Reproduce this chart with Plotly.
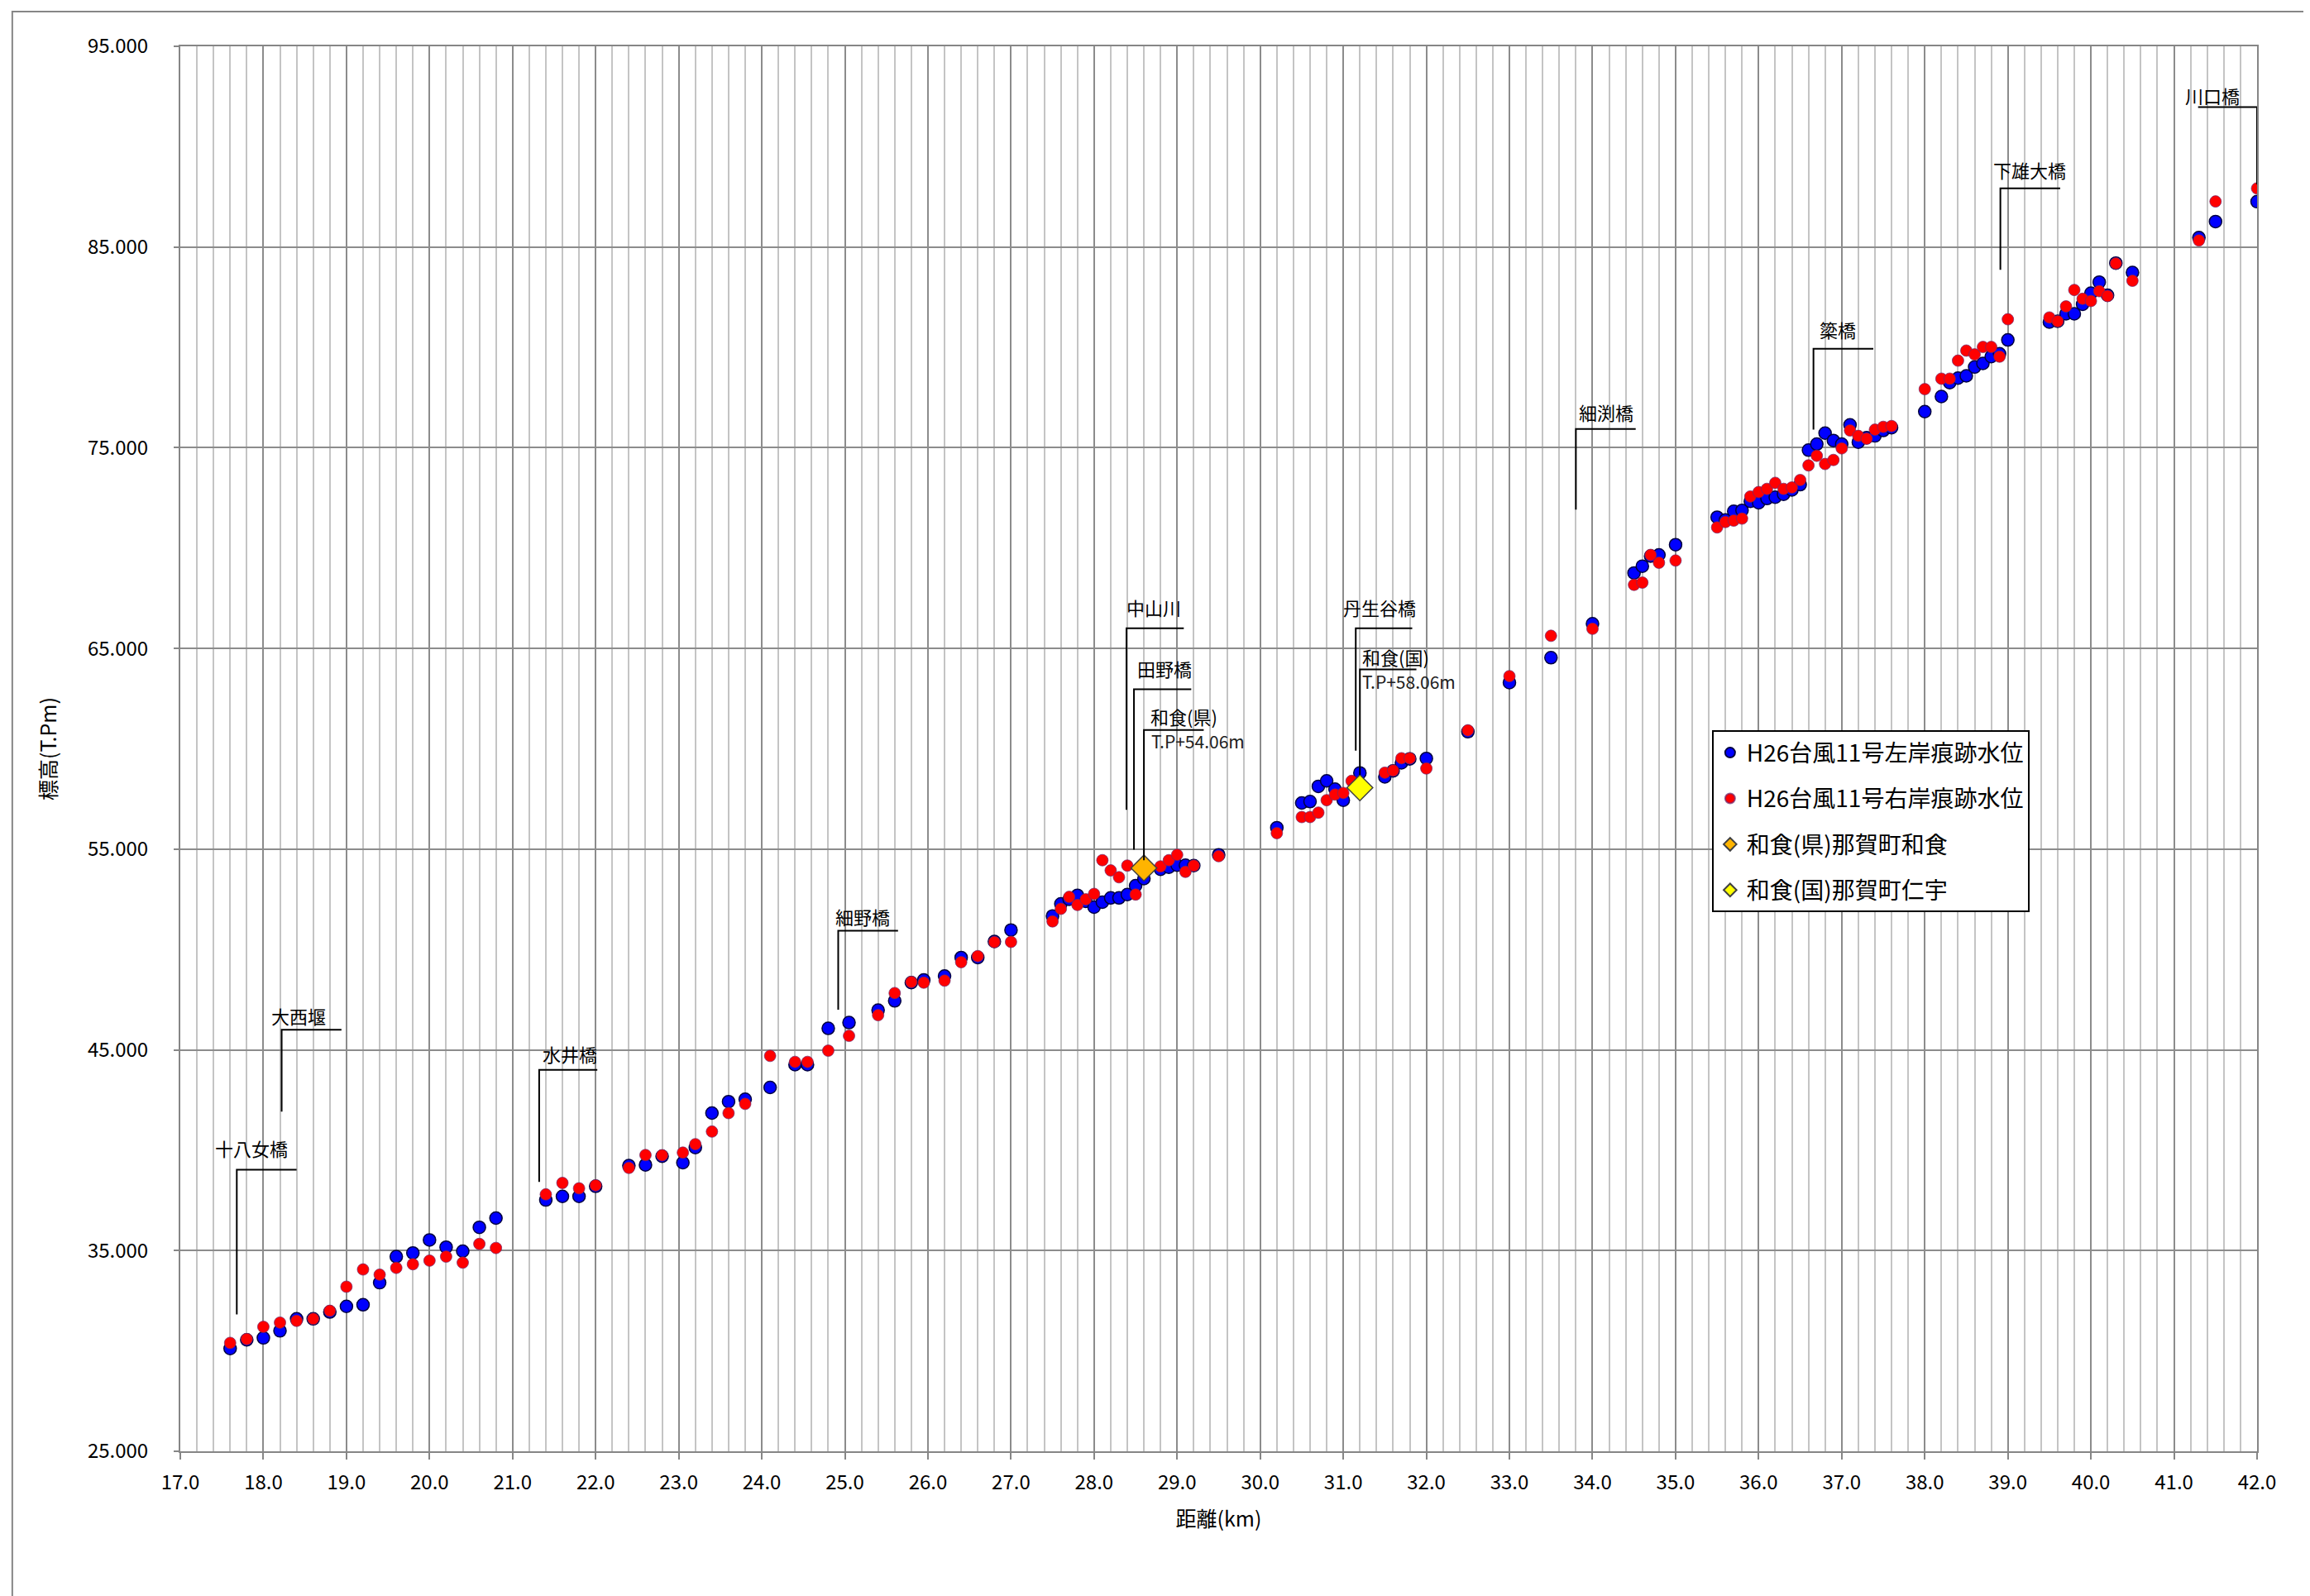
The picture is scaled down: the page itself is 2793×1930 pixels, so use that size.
"""
Water level trace chart (H26 typhoon No.11) - distance vs elevation
"""

import plotly.graph_objects as go

FONT = 'Noto Sans CJK JP'

# left bank trace water level (blue)
left_km = [17.6, 17.8, 18.0, 18.2, 18.4, 18.6, 18.8, 19.0, 19.2, 19.4, 19.6, 19.8, 20.0, 20.2, 20.4, 20.6, 20.8,
           21.4, 21.6, 21.8, 22.0, 22.4, 22.6, 22.8, 23.05, 23.2, 23.4, 23.6, 23.8, 24.1, 24.4, 24.55, 24.8,
           25.05, 25.4, 25.6, 25.8, 25.95, 26.2, 26.4, 26.6, 26.8, 27.0, 27.5, 27.6, 27.7, 27.8, 27.9, 28.0,
           28.1, 28.2, 28.3, 28.4, 28.5, 28.6, 28.8, 28.9, 29.0, 29.1, 29.2, 29.5, 30.2, 30.5, 30.6, 30.7,
           30.8, 30.9, 31.0, 31.2, 31.5, 31.6, 31.7, 31.8, 32.0, 32.5, 33.0, 33.5, 34.0, 34.5, 34.6, 34.7,
           34.8, 35.0, 35.5, 35.6, 35.7, 35.8, 35.9, 36.0, 36.1, 36.2, 36.3, 36.4, 36.5, 36.6, 36.7, 36.8,
           36.9, 37.0, 37.1, 37.2, 37.3, 37.4, 37.5, 37.6, 38.0, 38.2, 38.3, 38.4, 38.5, 38.6, 38.7, 38.8,
           38.9, 39.0, 39.5, 39.6, 39.7, 39.8, 39.9, 40.0, 40.1, 40.2, 40.3, 40.5, 41.3, 41.5, 42.0]
left_level = [30.12, 30.55, 30.65, 31.0, 31.6, 31.6, 31.94, 32.22, 32.3, 33.4, 34.7, 34.88, 35.53, 35.17, 34.97,
              36.16, 36.62, 37.52, 37.7, 37.7, 38.2, 39.23, 39.27, 39.7, 39.38, 40.13, 41.85, 42.42, 42.54,
              43.13, 44.26, 44.26, 46.07, 46.36, 46.98, 47.44, 48.35, 48.48, 48.68, 49.6, 49.6, 50.4, 50.97,
              51.67, 52.27, 52.5, 52.7, 52.4, 52.11, 52.36, 52.57, 52.57, 52.74, 53.18, 53.53, 54.0, 54.1,
              54.2, 54.2, 54.18, 54.72, 56.07, 57.3, 57.37, 58.13, 58.4, 57.99, 57.44, 58.8, 58.6, 58.9,
              59.3, 59.5, 59.52, 60.85, 63.3, 64.54, 66.23, 68.76, 69.1, 69.6, 69.66, 70.17, 71.54, 71.4,
              71.83, 71.88, 72.33, 72.26, 72.47, 72.54, 72.68, 72.9, 73.16, 74.88, 75.18, 75.73, 75.36,
              75.18, 76.14, 75.28, 75.5, 75.59, 75.86, 76.0, 76.8, 77.55, 78.24, 78.47, 78.58, 79.02, 79.2,
              79.54, 79.68, 80.37, 81.26, 81.3, 81.67, 81.67, 82.15, 82.7, 83.25, 82.6, 84.2, 83.73, 85.47,
              86.27, 87.26]

# right bank trace water level (red)
right_km = [17.6, 17.8, 18.0, 18.2, 18.4, 18.6, 18.8, 19.0, 19.2, 19.4, 19.6, 19.8, 20.0, 20.2, 20.4, 20.6, 20.8,
            21.4, 21.6, 21.8, 22.0, 22.4, 22.6, 22.8, 23.05, 23.2, 23.4, 23.6, 23.8, 24.1, 24.4, 24.55, 24.8,
            25.05, 25.4, 25.6, 25.8, 25.95, 26.2, 26.4, 26.6, 26.8, 27.0, 27.5, 27.6, 27.7, 27.8, 27.9, 28.0,
            28.1, 28.2, 28.3, 28.4, 28.5, 28.8, 28.9, 29.0, 29.1, 29.2, 29.5, 30.2, 30.5, 30.6, 30.7, 30.8,
            30.9, 31.0, 31.1, 31.5, 31.6, 31.7, 31.8, 32.0, 32.5, 33.0, 33.5, 34.0, 34.5, 34.6, 34.7, 34.8,
            35.0, 35.5, 35.6, 35.7, 35.8, 35.9, 36.0, 36.1, 36.2, 36.3, 36.4, 36.5, 36.6, 36.7, 36.8, 36.9,
            37.0, 37.1, 37.2, 37.3, 37.4, 37.5, 37.6, 38.0, 38.2, 38.3, 38.4, 38.5, 38.6, 38.7, 38.8, 38.9,
            39.0, 39.5, 39.6, 39.7, 39.8, 39.9, 40.0, 40.1, 40.2, 40.3, 40.5, 41.3, 41.5, 42.0]
right_level = [30.40, 30.59, 31.2, 31.41, 31.5, 31.6, 32.0, 33.2, 34.06, 33.8, 34.14, 34.32, 34.5, 34.7, 34.4,
               35.33, 35.13, 37.8, 38.37, 38.1, 38.25, 39.12, 39.76, 39.75, 39.88, 40.3, 40.93, 41.85, 42.31,
               44.7, 44.4, 44.4, 44.96, 45.7, 46.73, 47.83, 48.38, 48.35, 48.45, 49.37, 49.67, 50.37, 50.38,
               51.4, 52.03, 52.62, 52.22, 52.5, 52.77, 54.45, 53.94, 53.6, 54.18, 52.74, 54.14, 54.45, 54.72,
               53.87, 54.18, 54.65, 55.8, 56.6, 56.6, 56.82, 57.44, 57.72, 57.8, 58.4, 58.81, 58.92, 59.53,
               59.53, 59.02, 60.92, 63.62, 65.63, 65.98, 68.17, 68.28, 69.66, 69.27, 69.38, 71.03, 71.3,
               71.37, 71.47, 72.57, 72.79, 72.95, 73.25, 72.95, 73.02, 73.39, 74.12, 74.6, 74.19, 74.39,
               74.97, 75.86, 75.59, 75.45, 75.9, 76.04, 76.08, 77.92, 78.44, 78.44, 79.34, 79.84, 79.65,
               80.02, 80.02, 79.54, 81.4, 81.49, 81.3, 82.04, 82.86, 82.42, 82.31, 82.8, 82.56, 84.18,
               83.32, 85.33, 87.27, 87.92]

# water level stations
wajiki_pref_km = [28.6]
wajiki_pref_level = [54.06]
wajiki_nat_km = [31.2]
wajiki_nat_level = [58.06]

# callouts: label, vertical line x, bottom y, elbow y, horizontal end x, label x, label y
callouts = [
    ('十八女橋', 17.68, 31.82, 39.03, 18.40, 17.40, 40.14),
    ('大西堰', 18.22, 41.92, 46.00, 18.94, 18.08, 46.70),
    ('水井橋', 21.32, 38.42, 44.00, 22.02, 21.34, 44.80),
    ('細野橋', 24.92, 47.00, 50.94, 25.64, 24.87, 51.67),
    ('中山川', 28.39, 56.96, 66.00, 29.08, 28.37, 67.05),
    ('田野橋', 28.48, 54.97, 62.97, 29.17, 28.50, 64.03),
    ('和食(県)', 28.60, 54.45, 60.94, 29.32, 28.66, 61.64),
    ('丹生谷橋', 31.15, 59.91, 66.00, 31.83, 30.98, 67.05),
    ('和食(国)', 31.20, 58.70, 63.96, 31.88, 31.21, 64.58),
    ('細渕橋', 33.80, 71.92, 75.93, 34.52, 33.82, 76.80),
    ('簗橋', 36.66, 75.90, 79.93, 37.38, 36.71, 80.90),
    ('下雄大橋', 38.91, 83.87, 87.92, 39.63, 38.80, 88.88),
    ('川口橋', 42.00, 88.12, 91.97, 41.29, 41.11, 92.58),
]

# station elevation notes under the elbow
notes = [
    ('T.P+54.06m', 28.67, 60.40),
    ('T.P+58.06m', 31.21, 63.34),
]


fig = go.Figure()

fig.add_trace(go.Scatter(
    x=left_km, y=left_level, mode='markers', name='H26台風11号左岸痕跡水位', legendgroup='a',
    marker=dict(color='#0000FF', size=15, line=dict(color='#000040', width=1.5))
))
fig.add_trace(go.Scatter(
    x=right_km, y=right_level, mode='markers', name='H26台風11号右岸痕跡水位', legendgroup='b',
    marker=dict(color='#FF0000', size=14, line=dict(color='rgba(110,40,110,0.7)', width=1))
))
fig.add_trace(go.Scatter(
    x=wajiki_pref_km, y=wajiki_pref_level, mode='markers', name='和食(県)那賀町和食', legendgroup='c',
    marker=dict(color='#FFB400', symbol='diamond', size=24, line=dict(color='#404040', width=1.5))
))
fig.add_trace(go.Scatter(
    x=wajiki_nat_km, y=wajiki_nat_level, mode='markers', name='和食(国)那賀町仁宇', legendgroup='d',
    marker=dict(color='#FFFF00', symbol='diamond', size=24, line=dict(color='#404040', width=1.5))
))

# callout elbows and labels
for label, vx, y0, y1, xend, tx, ty in callouts:
    fig.add_shape(type='path', xref='x', yref='y',
                  path=f'M {vx} {y0} L {vx} {y1} L {xend} {y1}',
                  line=dict(color='black', width=2), layer='above')
    fig.add_annotation(x=tx, y=ty, text=label, showarrow=False, xanchor='left', yanchor='middle',
                       font=dict(family=FONT, size=22, color='black'))

for text, tx, ty in notes:
    fig.add_annotation(x=tx, y=ty, text=text, showarrow=False, xanchor='left', yanchor='middle',
                       font=dict(family=FONT, size=21, color='#202020'))

# outer chart frame
fig.add_shape(type='rect', xref='paper', yref='paper',
              x0=-0.0809, x1=1.0279, y0=-0.1042, y1=1.0247,
              line=dict(color='#868686', width=2), layer='below')

fig.update_layout(
    width=2793,
    height=1930,
    margin=dict(l=210, r=72, t=48, b=183),
    paper_bgcolor='white',
    plot_bgcolor='white',
    font=dict(family=FONT, size=24, color='black'),
    showlegend=True,
    legend=dict(
        x=0.7375, y=0.513, xanchor='left', yanchor='top',
        bgcolor='white', bordercolor='black', borderwidth=2,
        font=dict(family=FONT, size=28, color='black'),
        itemsizing='constant', tracegroupgap=16, traceorder='grouped',
    ),
    xaxis=dict(
        range=[17, 42], dtick=1, tick0=17, tickformat='.1f',
        showgrid=True, gridcolor='#8C8C8C', gridwidth=2,
        minor=dict(dtick=0.2, showgrid=True, gridcolor='#C4C4C4', gridwidth=1.5),
        showline=True, linecolor='#868686', linewidth=2, mirror=True,
        ticks='outside', ticklen=8, tickcolor='#868686', tickwidth=2,
        ticklabelstandoff=7,
        zeroline=False,
        title=dict(text='距離(km)', standoff=22, font=dict(family=FONT, size=25)),
        tickfont=dict(family=FONT, size=24),
    ),
    yaxis=dict(
        range=[25, 95], dtick=10, tick0=25, tickformat='.3f',
        showgrid=True, gridcolor='#8C8C8C', gridwidth=2,
        showline=True, linecolor='#868686', linewidth=2, mirror=True,
        ticks='outside', ticklen=6, tickcolor='#868686', tickwidth=2,
        ticklabelstandoff=26,
        zeroline=False,
        title=dict(text='標高(T.Pm)', standoff=30, font=dict(family=FONT, size=25)),
        tickfont=dict(family=FONT, size=24),
    ),
)

fig.write_html('out.html')
